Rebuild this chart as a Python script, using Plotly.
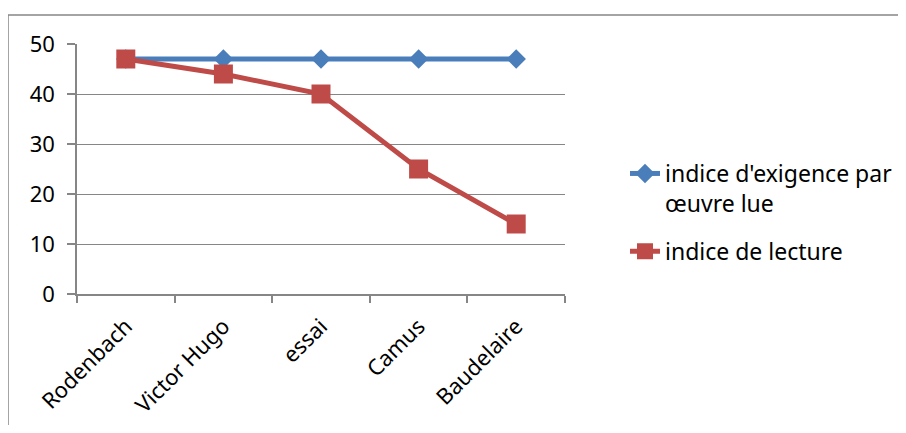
import plotly.graph_objects as go

categories = ["Rodenbach", "Victor Hugo", "essai", "Camus", "Baudelaire"]
exigence = [47, 47, 47, 47, 47]
lecture = [47, 44, 40, 25, 14]
y_ticks = [0, 10, 20, 30, 40, 50]

OFF = 8  # default page body margin
W, H = 906 - 2 * OFF, 433 - 2 * OFF
L = 77 - OFF
T = 44 - OFF
R = W - (565 - OFF)
B = H - (294 - OFF)
pw, ph = W - L - R, H - T - B

def px_x(x):  # page pixel -> paper
    return (x - OFF - L) / pw

def px_y(y):
    return (H - B - (y - OFF)) / ph

FONT = "Noto Sans"
GRID = "#868686"

fig = go.Figure()
fig.add_trace(go.Scatter(
    x=categories, y=exigence, mode="lines+markers",
    name="indice d'exigence par<br>œuvre lue", legendgroup="a",
    line=dict(color="#4A7EBB", width=5),
    marker=dict(symbol="diamond", size=15, color="#4A7EBB"),
))
fig.add_trace(go.Scatter(
    x=categories, y=lecture, mode="lines+markers",
    name="indice de lecture", legendgroup="b",
    line=dict(color="#BE4B48", width=5),
    marker=dict(symbol="square", size=19, color="#BE4B48"),
))

fig.update_layout(
    width=W, height=H,
    margin=dict(l=L, r=R, t=T, b=B, pad=0, autoexpand=False),
    paper_bgcolor="white", plot_bgcolor="white",
    font=dict(family=FONT, size=22, color="black"),
    showlegend=True,
    legend=dict(x=px_x(625), y=px_y(152), xanchor="left", yanchor="top",
                font=dict(family=FONT, size=23), valign="top",
                traceorder="grouped", tracegroupgap=15,
                bgcolor="rgba(0,0,0,0)"),
    xaxis=dict(type="category", range=[-0.5, 4.5], tickangle=-45,
               showline=True, linecolor=GRID, linewidth=1.5,
               ticks="outside", ticklen=7, tickcolor=GRID, tickwidth=1.5,
               tickson="boundaries", showgrid=False, ticklabelstandoff=9,
               tickfont=dict(family=FONT, size=22)),
    yaxis=dict(range=[0, 50], tickvals=y_ticks, showline=True, linecolor=GRID,
               linewidth=1.5, ticks="outside", ticklen=8, tickcolor=GRID,
               tickwidth=1.5, showgrid=True, gridcolor=GRID, gridwidth=1.2,
               zeroline=False, ticklabelstandoff=8,
               tickfont=dict(family=FONT, size=22)),
    shapes=[
        dict(type="line", xref="paper", yref="paper",
             x0=px_x(8), x1=px_x(8), y0=px_y(440), y1=px_y(15),
             line=dict(color=GRID, width=1.5)),
        dict(type="line", xref="paper", yref="paper",
             x0=px_x(8), x1=px_x(912), y0=px_y(15), y1=px_y(15),
             line=dict(color=GRID, width=1.5)),
    ],
)

fig.write_html("out.html")
